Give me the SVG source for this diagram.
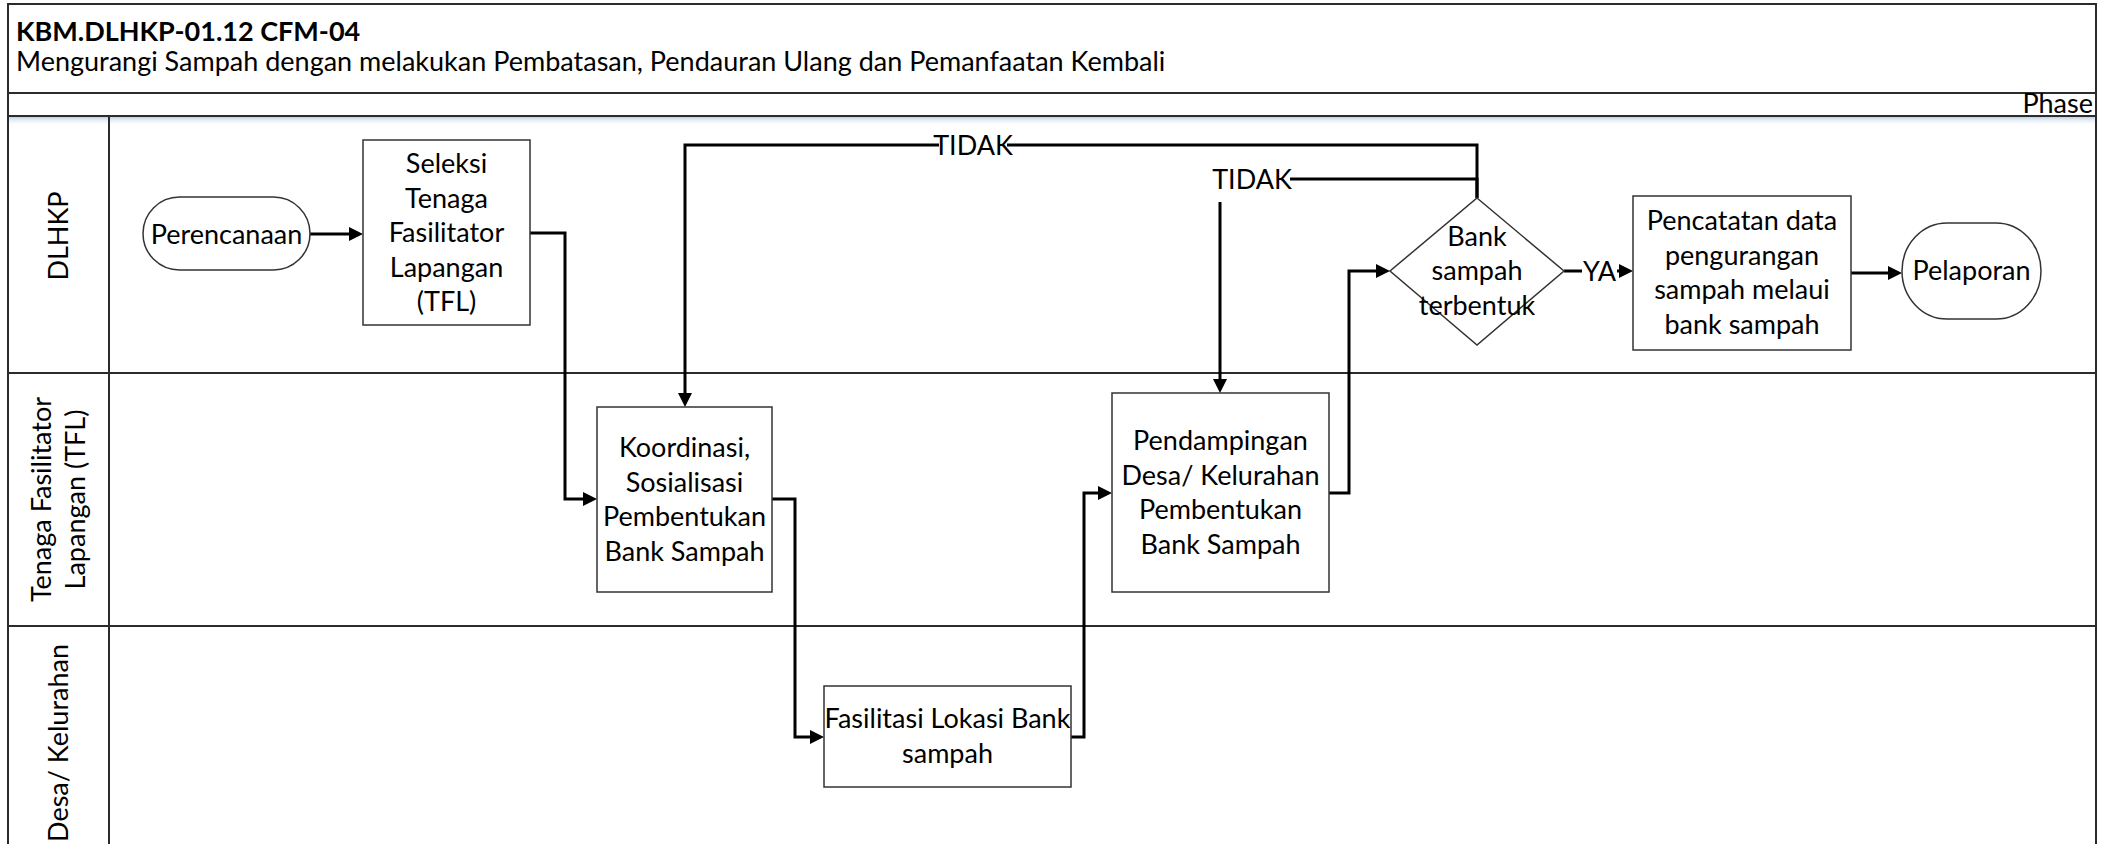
<svg xmlns="http://www.w3.org/2000/svg" width="2111" height="844" viewBox="0 0 2111 844">
  <defs>
    <style>
      text { font-family: Lato, "Liberation Sans", sans-serif; font-size: 27px; fill: #000; }
      .title { font-weight: bold; }
      .mid { text-anchor: middle; }
      .frame { fill: none; stroke: #2b2b2b; stroke-width: 2; }
      .lane { stroke: #2b2b2b; stroke-width: 2; fill: none; }
      .box { fill: #fff; stroke: #333; stroke-width: 1.5; }
      .flow { fill: none; stroke: #000; stroke-width: 3; marker-end: url(#arrow); }
      .lblbg { fill: #fff; }
    </style>
    <marker id="arrow" markerUnits="userSpaceOnUse" markerWidth="16" markerHeight="16" refX="10" refY="7" orient="auto">
      <path d="M0,0 L14,7 L0,14 Z" fill="#000"/>
    </marker>
    <linearGradient id="phaseShade" x1="0" y1="0" x2="0" y2="1">
      <stop offset="0" stop-color="#b8cce4" stop-opacity="0.9"/>
      <stop offset="1" stop-color="#ffffff" stop-opacity="0"/>
    </linearGradient>
  </defs>

  <rect width="2111" height="844" fill="#fff"/>

  <!-- Pool frame, header and phase strip -->
  <g id="pool">
    <rect x="8" y="4" width="2088" height="870" class="frame"/>
    <line x1="8" y1="93" x2="2096" y2="93" class="lane"/>
    <rect x="9" y="117" width="2086" height="9" fill="url(#phaseShade)"/>
    <line x1="8" y1="116" x2="2096" y2="116" class="lane"/>
    <text x="16" y="41" class="title">KBM.DLHKP-01.12 CFM-04</text>
    <text x="16" y="71">Mengurangi Sampah dengan melakukan Pembatasan, Pendauran Ulang dan Pemanfaatan Kembali</text>
    <text x="2093" y="113" text-anchor="end">Phase</text>
  </g>

  <!-- Swimlanes -->
  <g id="lanes">
    <line x1="109" y1="116" x2="109" y2="844" class="lane"/>
    <line x1="8" y1="373" x2="2096" y2="373" class="lane"/>
    <line x1="8" y1="626" x2="2096" y2="626" class="lane"/>
    <g id="lane-dlhkp" transform="translate(58.5,236) rotate(-90)">
      <text class="mid" x="0" y="9.5">DLHKP</text>
    </g>
    <g id="lane-tfl" transform="translate(58.5,499.5) rotate(-90)">
      <text class="mid" x="0" y="-8">Tenaga Fasilitator</text>
      <text class="mid" x="0" y="26.5">Lapangan (TFL)</text>
    </g>
    <g id="lane-desa" transform="translate(58.5,743) rotate(-90)">
      <text class="mid" x="0" y="9.5">Desa/ Kelurahan</text>
    </g>
  </g>

  <!-- Connectors -->
  <g id="connectors">
    <path class="flow" d="M310,234 H359"/>
    <path class="flow" d="M530,233 H565 V499 H593"/>
    <path class="flow" d="M772,499 H795 V737 H820"/>
    <path class="flow" d="M1070,737 H1084 V493 H1108"/>
    <path class="flow" d="M1329,493 H1349 V271 H1386"/>
    <path class="flow" d="M1564,271 H1629"/>
    <path class="flow" d="M1851,273 H1898"/>
    <path class="flow" d="M1477,198 V145 H685 V403"/>
    <path class="flow" d="M1477,198 V179 H1220 V389"/>
    <!-- connector labels -->
    <rect class="lblbg" x="939" y="131" width="68" height="28"/>
    <text class="mid" x="973" y="155">TIDAK</text>
    <rect class="lblbg" x="1214" y="163" width="76" height="39"/>
    <text class="mid" x="1252" y="189">TIDAK</text>
    <rect class="lblbg" x="1582" y="257" width="35" height="28"/>
    <text class="mid" x="1599.5" y="280.5">YA</text>
  </g>

  <!-- Nodes -->
  <g id="perencanaan">
    <rect class="box" x="143" y="197" width="167" height="73" rx="36.5" ry="36.5"/>
    <text class="mid" x="226.5" y="243.5">Perencanaan</text>
  </g>

  <g id="seleksi-tfl">
    <rect class="box" x="363" y="140" width="167" height="185"/>
    <text class="mid" x="446.5" y="173">Seleksi</text>
    <text class="mid" x="446.5" y="207.5">Tenaga</text>
    <text class="mid" x="446.5" y="242">Fasilitator</text>
    <text class="mid" x="446.5" y="276.5">Lapangan</text>
    <text class="mid" x="446.5" y="311">(TFL)</text>
  </g>

  <g id="koordinasi">
    <rect class="box" x="597" y="407" width="175" height="185"/>
    <text class="mid" x="684.5" y="457">Koordinasi,</text>
    <text class="mid" x="684.5" y="491.5">Sosialisasi</text>
    <text class="mid" x="684.5" y="526">Pembentukan</text>
    <text class="mid" x="684.5" y="560.5">Bank Sampah</text>
  </g>

  <g id="fasilitasi-lokasi">
    <rect class="box" x="824" y="686" width="247" height="101"/>
    <text class="mid" x="947.5" y="728">Fasilitasi Lokasi Bank</text>
    <text class="mid" x="947.5" y="762.5">sampah</text>
  </g>

  <g id="pendampingan">
    <rect class="box" x="1112" y="393" width="217" height="199"/>
    <text class="mid" x="1220.5" y="450">Pendampingan</text>
    <text class="mid" x="1220.5" y="484.5">Desa/ Kelurahan</text>
    <text class="mid" x="1220.5" y="519">Pembentukan</text>
    <text class="mid" x="1220.5" y="553.5">Bank Sampah</text>
  </g>

  <g id="bank-sampah-terbentuk">
    <polygon class="box" points="1477,198 1564,271 1477,345 1390,271"/>
    <text class="mid" x="1477" y="245.5">Bank</text>
    <text class="mid" x="1477" y="280">sampah</text>
    <text class="mid" x="1477" y="314.5">terbentuk</text>
  </g>

  <g id="pencatatan">
    <rect class="box" x="1633" y="196" width="218" height="154"/>
    <text class="mid" x="1742" y="230">Pencatatan data</text>
    <text class="mid" x="1742" y="264.5">pengurangan</text>
    <text class="mid" x="1742" y="299">sampah melaui</text>
    <text class="mid" x="1742" y="333.5">bank sampah</text>
  </g>

  <g id="pelaporan">
    <rect class="box" x="1902" y="223" width="139" height="96" rx="45" ry="48"/>
    <text class="mid" x="1971.5" y="280">Pelaporan</text>
  </g>
</svg>
